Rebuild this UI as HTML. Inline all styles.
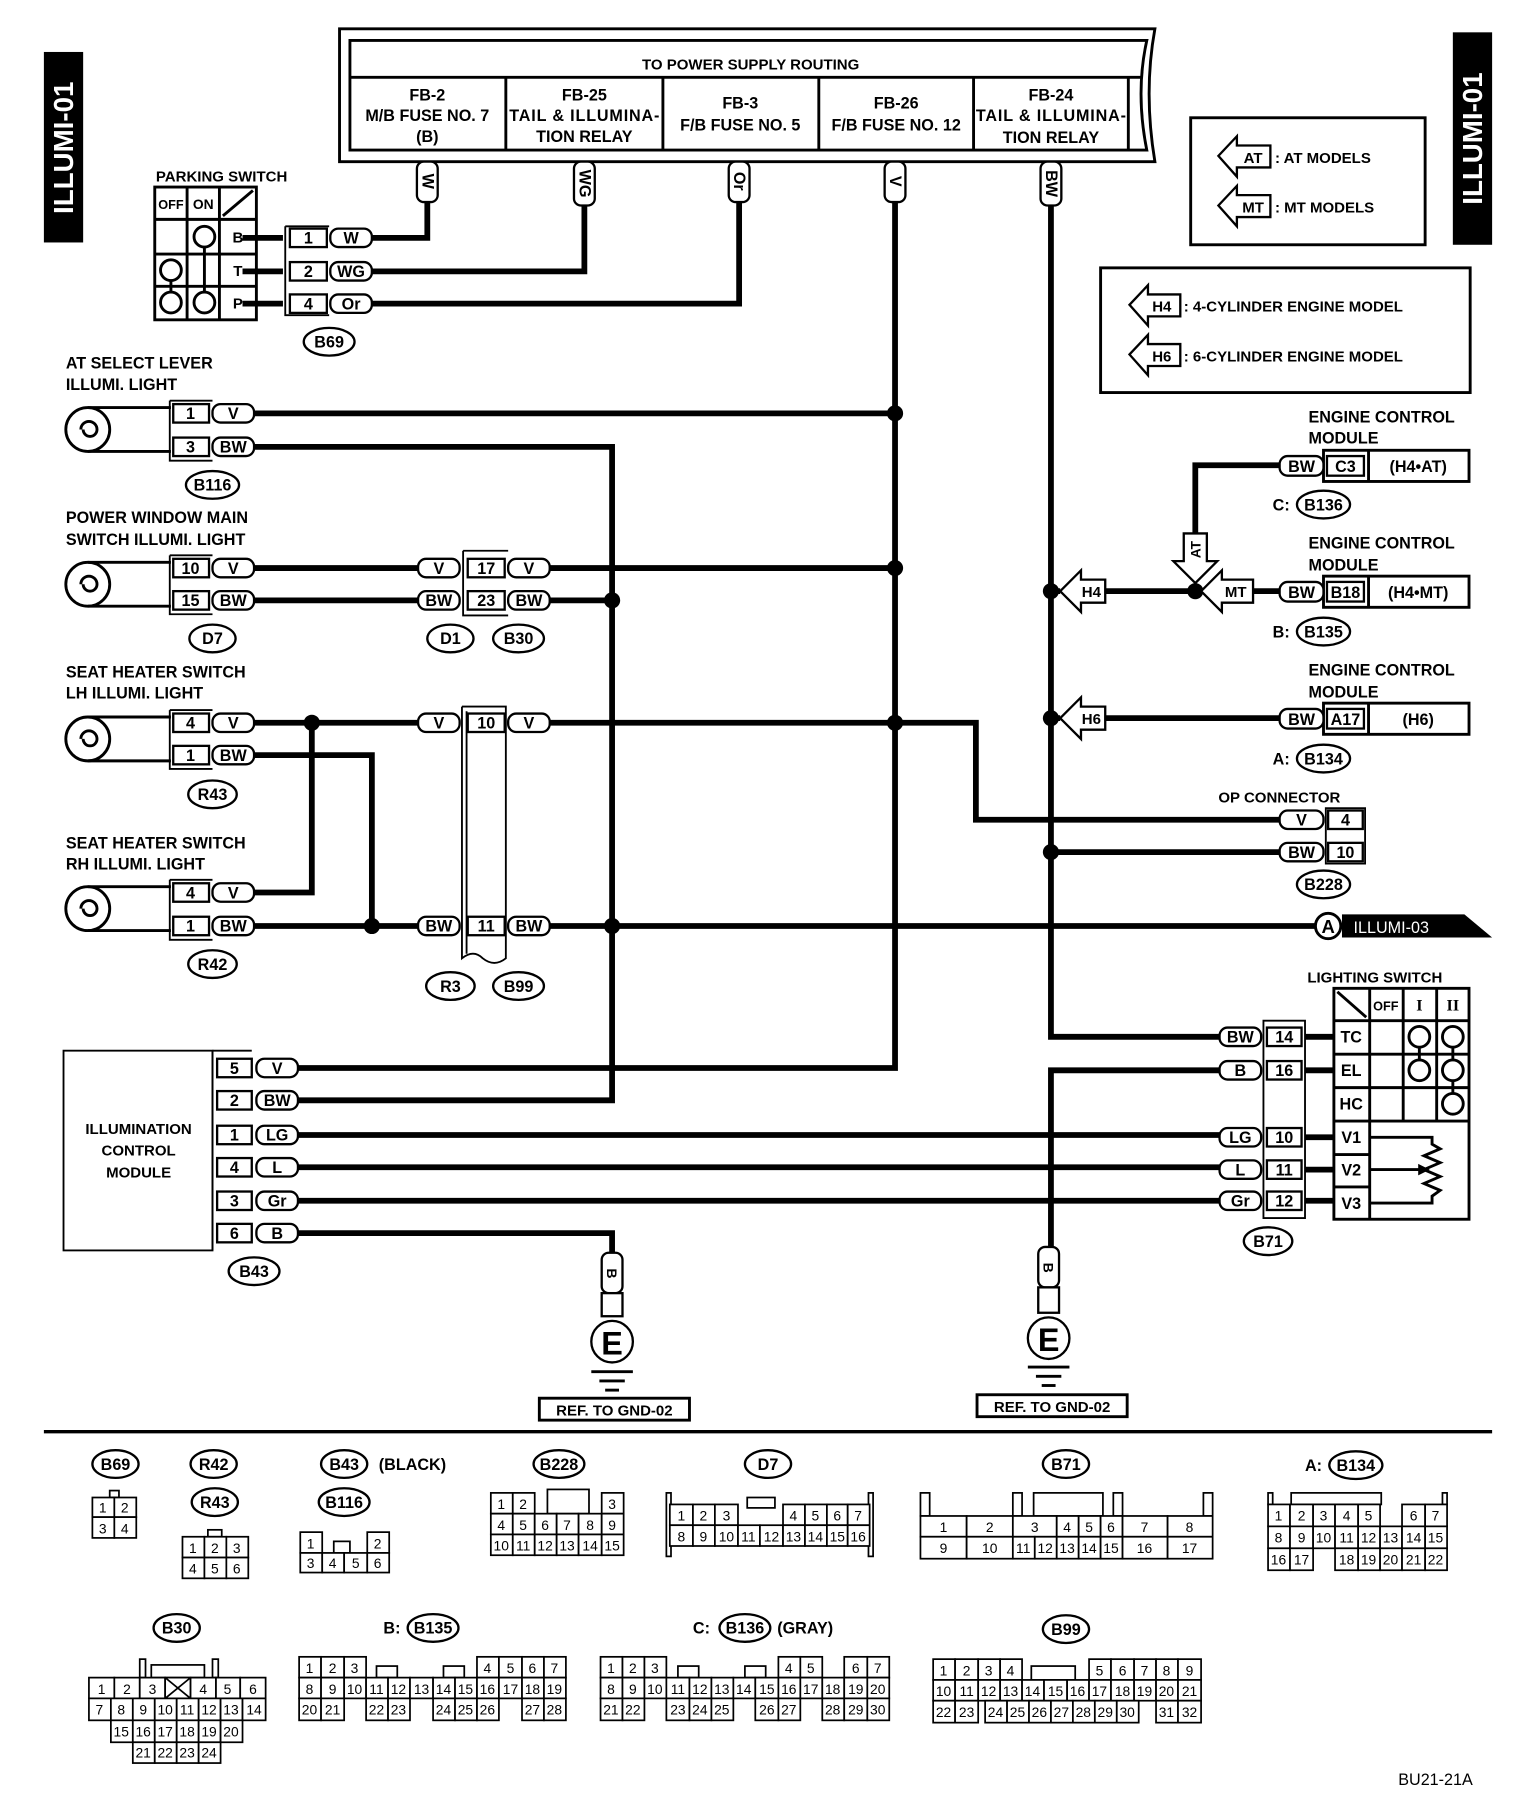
<!DOCTYPE html>
<html><head><meta charset="utf-8"><style>
html,body{margin:0;padding:0;background:#fff}
svg{display:block}
text{font-family:"Liberation Sans",Arial,sans-serif;font-weight:bold;font-size:14px;fill:#000}
.c{text-anchor:middle}
.m{text-anchor:middle;dominant-baseline:central}
.w{stroke:#000;stroke-width:5;fill:none}
.n{stroke:#000;stroke-width:1.6;fill:none}
.b{stroke:#000;stroke-width:2;fill:#fff}
.g rect{fill:#fff;stroke:#000;stroke-width:1.5}
.g text{font-size:12px;font-weight:normal;text-anchor:middle}
.s{font-size:13px}
</style></head><body>
<svg xmlns="http://www.w3.org/2000/svg" width="1536" height="1800" viewBox="0 0 1330 1559" preserveAspectRatio="none">
<rect width="1330" height="1559" fill="#fff"/>
<!-- side labels -->
<rect x="38" y="45" width="34" height="165" fill="#000"/>
<text transform="translate(55,128) rotate(-90)" class="m" style="fill:#fff;font-size:24px">ILLUMI-01</text>
<rect x="1258" y="28" width="34" height="184" fill="#000"/>
<text transform="translate(1275,120) rotate(-90)" class="m" style="fill:#fff;font-size:24px">ILLUMI-01</text>

<!-- power box -->
<path d="M294,25 H1000 Q990,80 1000,140 H294 Z" class="n" style="stroke-width:2.5"/>
<path d="M303,35 H993 Q983,80 993,130 H303 Z" class="n" style="stroke-width:2.5"/>
<line x1="303" y1="67" x2="988" y2="67" class="n" style="stroke-width:2.5"/>
<g class="n" style="stroke-width:2.5"><line x1="438" y1="67" x2="438" y2="130"/><line x1="574" y1="67" x2="574" y2="130"/><line x1="709" y1="67" x2="709" y2="130"/><line x1="843" y1="67" x2="843" y2="130"/><line x1="977" y1="67" x2="977" y2="130"/></g>
<text x="650" y="60" class="c s">TO POWER SUPPLY ROUTING</text>
<g class="s">
<text x="370" y="87" class="c">FB-2</text><text x="370" y="105" class="c">M/B FUSE NO. 7</text><text x="370" y="123" class="c">(B)</text>
<text x="506" y="87" class="c">FB-25</text><text x="506" y="105" class="c" textLength="130">TAIL &amp; ILLUMINA-</text><text x="506" y="123" class="c">TION RELAY</text>
<text x="641" y="94" class="c">FB-3</text><text x="641" y="113" class="c">F/B FUSE NO. 5</text>
<text x="776" y="94" class="c">FB-26</text><text x="776" y="113" class="c">F/B FUSE NO. 12</text>
<text x="910" y="87" class="c">FB-24</text><text x="910" y="105" class="c" textLength="130">TAIL &amp; ILLUMINA-</text><text x="910" y="124" class="c">TION RELAY</text>
</g>

<!-- wires -->
<g class="w">
<path d="M370,175 V206 H320"/>
<path d="M506,175 V235 H320"/>
<path d="M640,175 V263 H320"/>
<path d="M775,175 V925 H258"/>
<path d="M910,175 V898 H1060"/>
<path d="M220,358 H775"/>
<path d="M220,387 H530 V953 H258"/>
<path d="M220,492 H362 M476,492 H775"/>
<path d="M220,520 H362 M476,520 H530"/>
<path d="M220,626 H362 M476,626 H845 V710 H1108"/>
<path d="M220,654 H322 V802"/>
<path d="M220,773 H270 V626"/>
<path d="M220,802 H362 M476,802 H1140"/>
<path d="M258,983 H1060 M258,1011 H1060 M258,1040 H1060"/>
<path d="M258,1068 H530 V1085"/>
<path d="M1060,927 H910 V1080"/>
<path d="M910,738 H1108"/>
<path d="M1108,403 H1035 V462"/>
<path d="M956,512 H1040 M1085,512 H1108"/>
<path d="M956,622 H1108"/>
<path d="M910,512 H918 M910,622 H918"/>
<path d="M1130,898 H1155 M1130,927 H1155 M1130,985 H1155 M1130,1013 H1155 M1130,1040 H1155"/>
<path d="M245,206 H210 M245,235 H210 M245,263 H210"/>
</g>
<!-- junctions -->
<g fill="#000">
<circle cx="775" cy="358" r="7"/><circle cx="775" cy="492" r="7"/><circle cx="775" cy="626" r="7"/>
<circle cx="530" cy="520" r="7"/><circle cx="530" cy="802" r="7"/>
<circle cx="270" cy="626" r="7"/><circle cx="322" cy="802" r="7"/>
<circle cx="910" cy="512" r="7"/><circle cx="910" cy="622" r="7"/><circle cx="910" cy="738" r="7"/>
<circle cx="1035" cy="512" r="7"/>
</g>

<!-- top vertical tags -->
<g class="b"><rect x="361" y="140" width="18" height="35" rx="6"/><rect x="497" y="140" width="18" height="38" rx="6"/><rect x="631" y="140" width="18" height="35" rx="6"/><rect x="766" y="140" width="18" height="35" rx="6"/><rect x="901" y="140" width="18" height="38" rx="6"/></g>
<g style="font-size:12px">
<text transform="translate(370,157) rotate(90)" class="m">W</text>
<text transform="translate(506,159) rotate(90)" class="m">WG</text>
<text transform="translate(640,157) rotate(90)" class="m">Or</text>
<text transform="translate(775,157) rotate(90)" class="m">V</text>
<text transform="translate(910,159) rotate(90)" class="m">BW</text>
</g>

<!-- parking switch -->
<text x="135" y="157" class="s">PARKING SWITCH</text>
<g class="n" style="stroke-width:2.5">
<rect x="134" y="162" width="88" height="115"/>
<line x1="162" y1="162" x2="162" y2="277"/><line x1="190" y1="162" x2="190" y2="277"/>
<line x1="134" y1="190" x2="222" y2="190"/><line x1="134" y1="220" x2="222" y2="220"/><line x1="134" y1="248" x2="222" y2="248"/>
<line x1="193" y1="187" x2="219" y2="165"/>
<circle cx="177" cy="205" r="9"/><circle cx="148" cy="234" r="9"/><circle cx="148" cy="262" r="9"/><circle cx="177" cy="262" r="9"/>
<line x1="177" y1="214" x2="177" y2="253"/><line x1="148" y1="243" x2="148" y2="253"/>
</g>
<text x="148" y="181" class="c" style="font-size:11px">OFF</text><text x="176" y="181" class="c" style="font-size:12px">ON</text>
<text x="206" y="210" class="c s">B</text><text x="206" y="239" class="c s">T</text><text x="206" y="267" class="c s">P</text>
<!-- B69 connector -->
<path d="M247,196 V273 H285 M247,196 H285" class="n"/>
<g class="b"><rect x="251" y="198" width="32" height="16"/><rect x="251" y="227" width="32" height="16"/><rect x="251" y="255" width="32" height="16"/>
<rect x="286" y="198" width="36" height="16" rx="7"/><rect x="286" y="227" width="36" height="16" rx="7"/><rect x="286" y="255" width="36" height="16" rx="7"/></g>
<g class="s"><text x="267" y="211" class="c">1</text><text x="267" y="240" class="c">2</text><text x="267" y="268" class="c">4</text>
<text x="304" y="211" class="c">W</text><text x="304" y="240" class="c">WG</text><text x="304" y="268" class="c">Or</text></g>

<!-- lamps -->
<g class="n" style="stroke-width:2.5">
<circle cx="76" cy="372" r="19"/><path d="M70,372 a7,7 0 1 1 14,0 a6,6 0 1 1 -12,0" /><path d="M76,353 H148 M76,391 H148"/>
<circle cx="76" cy="506" r="19"/><path d="M70,506 a7,7 0 1 1 14,0 a6,6 0 1 1 -12,0" /><path d="M76,487 H148 M76,525 H148"/>
<circle cx="76" cy="640" r="19"/><path d="M70,640 a7,7 0 1 1 14,0 a6,6 0 1 1 -12,0" /><path d="M76,621 H148 M76,659 H148"/>
<circle cx="76" cy="787" r="19"/><path d="M70,787 a7,7 0 1 1 14,0 a6,6 0 1 1 -12,0" /><path d="M76,768 H148 M76,806 H148"/>
</g>
<!-- lamp connectors -->
<g class="n"><path d="M147,347 V399 H184 M147,347 H184"/><path d="M147,481 V532 H184 M147,481 H184"/><path d="M147,615 V666 H184 M147,615 H184"/><path d="M147,762 V814 H184 M147,762 H184"/></g>
<g class="b">
<rect x="150" y="350" width="31" height="16"/><rect x="150" y="379" width="31" height="16"/>
<rect x="184" y="350" width="36" height="16" rx="7"/><rect x="184" y="379" width="36" height="16" rx="7"/>
<rect x="150" y="484" width="31" height="16"/><rect x="150" y="512" width="31" height="16"/>
<rect x="184" y="484" width="36" height="16" rx="7"/><rect x="184" y="512" width="36" height="16" rx="7"/>
<rect x="150" y="618" width="31" height="16"/><rect x="150" y="646" width="31" height="16"/>
<rect x="184" y="618" width="36" height="16" rx="7"/><rect x="184" y="646" width="36" height="16" rx="7"/>
<rect x="150" y="765" width="31" height="16"/><rect x="150" y="794" width="31" height="16"/>
<rect x="184" y="765" width="36" height="16" rx="7"/><rect x="184" y="794" width="36" height="16" rx="7"/>
</g>
<g class="s">
<text x="165" y="363" class="c">1</text><text x="202" y="363" class="c">V</text><text x="165" y="392" class="c">3</text><text x="202" y="392" class="c">BW</text>
<text x="165" y="497" class="c">10</text><text x="202" y="497" class="c">V</text><text x="165" y="525" class="c">15</text><text x="202" y="525" class="c">BW</text>
<text x="165" y="631" class="c">4</text><text x="202" y="631" class="c">V</text><text x="165" y="659" class="c">1</text><text x="202" y="659" class="c">BW</text>
<text x="165" y="778" class="c">4</text><text x="202" y="778" class="c">V</text><text x="165" y="807" class="c">1</text><text x="202" y="807" class="c">BW</text>
</g>
<g class="s">
<text x="57" y="319">AT SELECT LEVER</text><text x="57" y="338">ILLUMI. LIGHT</text>
<text x="57" y="453">POWER WINDOW MAIN</text><text x="57" y="472">SWITCH ILLUMI. LIGHT</text>
<text x="57" y="587">SEAT HEATER SWITCH</text><text x="57" y="605">LH ILLUMI. LIGHT</text>
<text x="57" y="735">SEAT HEATER SWITCH</text><text x="57" y="753">RH ILLUMI. LIGHT</text>
</g>

<!-- mid connectors D1/B30, R3/B99 -->
<path d="M401,477 V533 H440 M401,477 H440" class="n"/>
<path d="M400,612 V830 Q410,822 418,830 Q428,838 438,830 V612 H400" class="n"/>
<line x1="404" y1="616" x2="404" y2="826" class="n"/>
<g class="b">
<rect x="362" y="484" width="36" height="16" rx="7"/><rect x="362" y="512" width="36" height="16" rx="7"/>
<rect x="405" y="484" width="32" height="16"/><rect x="405" y="512" width="32" height="16"/>
<rect x="440" y="484" width="36" height="16" rx="7"/><rect x="440" y="512" width="36" height="16" rx="7"/>
<rect x="362" y="618" width="36" height="16" rx="7"/><rect x="405" y="618" width="32" height="16"/><rect x="440" y="618" width="36" height="16" rx="7"/>
<rect x="362" y="794" width="36" height="16" rx="7"/><rect x="405" y="794" width="32" height="16"/><rect x="440" y="794" width="36" height="16" rx="7"/>
</g>
<g class="s">
<text x="380" y="497" class="c">V</text><text x="421" y="497" class="c">17</text><text x="458" y="497" class="c">V</text>
<text x="380" y="525" class="c">BW</text><text x="421" y="525" class="c">23</text><text x="458" y="525" class="c">BW</text>
<text x="380" y="631" class="c">V</text><text x="421" y="631" class="c">10</text><text x="458" y="631" class="c">V</text>
<text x="380" y="807" class="c">BW</text><text x="421" y="807" class="c">11</text><text x="458" y="807" class="c">BW</text>
</g>

<!-- ovals -->
<g class="b">
<ellipse cx="285" cy="296" rx="22" ry="12"/><ellipse cx="184" cy="420" rx="23" ry="12"/><ellipse cx="184" cy="553" rx="20" ry="12"/>
<ellipse cx="390" cy="553" rx="20" ry="12"/><ellipse cx="449" cy="553" rx="22" ry="12"/><ellipse cx="184" cy="688" rx="21" ry="12"/>
<ellipse cx="184" cy="835" rx="21" ry="12"/><ellipse cx="390" cy="854" rx="21" ry="12"/><ellipse cx="449" cy="854" rx="22" ry="12"/>
<ellipse cx="220" cy="1101" rx="22" ry="12"/><ellipse cx="1146" cy="437" rx="23" ry="12"/><ellipse cx="1146" cy="547" rx="23" ry="12"/>
<ellipse cx="1146" cy="657" rx="23" ry="12"/><ellipse cx="1146" cy="766" rx="23" ry="12"/><ellipse cx="1098" cy="1075" rx="21" ry="12"/>
</g>
<g class="s">
<text x="285" y="301" class="c">B69</text><text x="184" y="425" class="c">B116</text><text x="184" y="558" class="c">D7</text>
<text x="390" y="558" class="c">D1</text><text x="449" y="558" class="c">B30</text><text x="184" y="693" class="c">R43</text>
<text x="184" y="840" class="c">R42</text><text x="390" y="859" class="c">R3</text><text x="449" y="859" class="c">B99</text>
<text x="220" y="1106" class="c">B43</text><text x="1146" y="442" class="c">B136</text><text x="1146" y="552" class="c">B135</text>
<text x="1146" y="662" class="c">B134</text><text x="1146" y="771" class="c">B228</text><text x="1098" y="1080" class="c">B71</text>
<text x="1102" y="442">C:</text><text x="1102" y="552">B:</text><text x="1102" y="662">A:</text>
</g>

<!-- illumination control module -->
<rect x="55" y="910" width="129" height="173" class="n"/>
<path d="M184,910 H218 M184,910 V1083" class="n"/>
<text x="120" y="982" class="c s">ILLUMINATION</text><text x="120" y="1001" class="c s">CONTROL</text><text x="120" y="1020" class="c s">MODULE</text>
<g class="b">
<rect x="188" y="917" width="30" height="16"/><rect x="188" y="945" width="30" height="16"/><rect x="188" y="975" width="30" height="16"/>
<rect x="188" y="1003" width="30" height="16"/><rect x="188" y="1032" width="30" height="16"/><rect x="188" y="1060" width="30" height="16"/>
<rect x="222" y="917" width="36" height="16" rx="7"/><rect x="222" y="945" width="36" height="16" rx="7"/><rect x="222" y="975" width="36" height="16" rx="7"/>
<rect x="222" y="1003" width="36" height="16" rx="7"/><rect x="222" y="1032" width="36" height="16" rx="7"/><rect x="222" y="1060" width="36" height="16" rx="7"/>
</g>
<g class="s">
<text x="203" y="930" class="c">5</text><text x="240" y="930" class="c">V</text>
<text x="203" y="958" class="c">2</text><text x="240" y="958" class="c">BW</text>
<text x="203" y="988" class="c">1</text><text x="240" y="988" class="c">LG</text>
<text x="203" y="1016" class="c">4</text><text x="240" y="1016" class="c">L</text>
<text x="203" y="1045" class="c">3</text><text x="240" y="1045" class="c">Gr</text>
<text x="203" y="1073" class="c">6</text><text x="240" y="1073" class="c">B</text>
</g>

<!-- grounds -->
<g class="b"><rect x="521" y="1085" width="18" height="35" rx="6"/><rect x="521" y="1120" width="18" height="20"/><circle cx="530" cy="1162" r="18"/>
<rect x="899" y="1080" width="18" height="35" rx="6"/><rect x="899" y="1115" width="18" height="22"/><circle cx="908" cy="1159" r="18"/></g>
<text transform="translate(530,1103) rotate(90)" class="m" style="font-size:12px">B</text>
<text transform="translate(908,1098) rotate(90)" class="m" style="font-size:12px">B</text>
<text x="530" y="1173" class="c" style="font-size:28px">E</text><text x="908" y="1170" class="c" style="font-size:28px">E</text>
<g stroke="#000" stroke-width="2.5"><line x1="512" y1="1188" x2="548" y2="1188"/><line x1="519" y1="1196" x2="541" y2="1196"/><line x1="524" y1="1204" x2="536" y2="1204"/>
<line x1="890" y1="1184" x2="926" y2="1184"/><line x1="897" y1="1192" x2="919" y2="1192"/><line x1="902" y1="1200" x2="914" y2="1200"/></g>
<rect x="467" y="1211" width="130" height="19" class="n" style="stroke-width:2.5"/><text x="532" y="1226" class="c s">REF. TO GND-02</text>
<rect x="846" y="1208" width="130" height="19" class="n" style="stroke-width:2.5"/><text x="911" y="1223" class="c s">REF. TO GND-02</text>

<!-- legends -->
<rect x="1031" y="102" width="203" height="110" class="n" style="stroke-width:2.5"/>
<polygon points="1055,135 1071,118 1071,126 1100,126 1100,145 1071,145 1071,153" class="b"/>
<polygon points="1055,178 1071,161 1071,169 1100,169 1100,188 1071,188 1071,196" class="b"/>
<text x="1085" y="141" class="c s">AT</text><text x="1085" y="184" class="c s">MT</text>
<text x="1104" y="141" class="s">: AT MODELS</text><text x="1104" y="184" class="s">: MT MODELS</text>
<rect x="953" y="232" width="320" height="108" class="n" style="stroke-width:2.5"/>
<polygon points="978,264 994,247 994,255 1022,255 1022,274 994,274 994,282" class="b"/>
<polygon points="978,307 994,290 994,298 1022,298 1022,317 994,317 994,325" class="b"/>
<text x="1006" y="270" class="c s">H4</text><text x="1006" y="313" class="c s">H6</text>
<text x="1025" y="270" class="s">: 4-CYLINDER ENGINE MODEL</text><text x="1025" y="313" class="s">: 6-CYLINDER ENGINE MODEL</text>

<!-- diagram arrows -->
<polygon points="918,512 936,494 936,502 957,502 957,522 936,522 936,530" class="b"/>
<polygon points="918,622 936,604 936,612 957,612 957,632 936,632 936,640" class="b"/>
<polygon points="1040,512 1058,494 1058,502 1085,502 1085,522 1058,522 1058,530" class="b"/>
<polygon points="1035,505 1016,486 1025,486 1025,462 1045,462 1045,486 1054,486" class="b"/>
<text x="945" y="517" class="c s">H4</text><text x="945" y="627" class="c s">H6</text><text x="1070" y="517" class="c s">MT</text>
<text transform="translate(1035,476) rotate(-90)" class="m" style="font-size:12px">AT</text>

<!-- ECM blocks -->
<g class="s">
<text x="1133" y="366">ENGINE CONTROL</text><text x="1133" y="384">MODULE</text>
<text x="1133" y="475">ENGINE CONTROL</text><text x="1133" y="494">MODULE</text>
<text x="1133" y="585">ENGINE CONTROL</text><text x="1133" y="604">MODULE</text>
</g>
<g class="n" style="stroke-width:2.5"><rect x="1146" y="390" width="126" height="27"/><rect x="1146" y="499" width="126" height="27"/><rect x="1146" y="609" width="126" height="27"/>
<line x1="1185" y1="390" x2="1185" y2="417"/><line x1="1185" y1="499" x2="1185" y2="526"/><line x1="1185" y1="609" x2="1185" y2="636"/></g>
<g class="b">
<rect x="1108" y="395" width="38" height="17" rx="7"/><rect x="1149" y="395" width="32" height="17"/>
<rect x="1108" y="504" width="38" height="17" rx="7"/><rect x="1149" y="504" width="32" height="17"/>
<rect x="1108" y="614" width="38" height="17" rx="7"/><rect x="1149" y="614" width="32" height="17"/>
</g>
<g class="s">
<text x="1127" y="409" class="c">BW</text><text x="1165" y="409" class="c">C3</text><text x="1228" y="409" class="c">(H4•AT)</text>
<text x="1127" y="518" class="c">BW</text><text x="1165" y="518" class="c">B18</text><text x="1228" y="518" class="c">(H4•MT)</text>
<text x="1127" y="628" class="c">BW</text><text x="1165" y="628" class="c">A17</text><text x="1228" y="628" class="c">(H6)</text>
</g>

<!-- OP connector -->
<text x="1055" y="695" class="s">OP CONNECTOR</text>
<path d="M1148,700 V748 H1182 V700 Z" class="n"/>
<g class="b"><rect x="1108" y="702" width="38" height="16" rx="7"/><rect x="1108" y="730" width="38" height="16" rx="7"/>
<rect x="1150" y="702" width="30" height="16"/><rect x="1150" y="730" width="30" height="16"/></g>
<g class="s"><text x="1127" y="715" class="c">V</text><text x="1165" y="715" class="c">4</text><text x="1127" y="743" class="c">BW</text><text x="1165" y="743" class="c">10</text></g>

<!-- ILLUMI-03 -->
<circle cx="1150" cy="802" r="11" class="b" style="stroke-width:2.5"/><text x="1150" y="808" class="c" style="font-size:16px">A</text>
<polygon points="1162,792 1268,792 1292,812 1162,812" fill="#000"/>
<text x="1172" y="808" style="fill:#fff;font-size:14px;font-weight:normal">ILLUMI-03</text>

<!-- lighting switch -->
<text x="1132" y="851" class="s">LIGHTING SWITCH</text>
<g class="n" style="stroke-width:2.5">
<rect x="1155" y="856" width="117" height="200"/>
<line x1="1186" y1="856" x2="1186" y2="1056"/><line x1="1215" y1="856" x2="1215" y2="971"/><line x1="1244" y1="856" x2="1244" y2="971"/>
<line x1="1155" y1="884" x2="1272" y2="884"/><line x1="1155" y1="913" x2="1272" y2="913"/><line x1="1155" y1="942" x2="1272" y2="942"/><line x1="1155" y1="971" x2="1272" y2="971"/>
<line x1="1155" y1="1000" x2="1186" y2="1000"/><line x1="1155" y1="1028" x2="1186" y2="1028"/>
<line x1="1158" y1="859" x2="1183" y2="881"/>
<circle cx="1229" cy="898" r="9"/><circle cx="1258" cy="898" r="9"/><circle cx="1229" cy="927" r="9"/><circle cx="1258" cy="927" r="9"/><circle cx="1258" cy="956" r="9"/>
<line x1="1229" y1="907" x2="1229" y2="918"/><line x1="1258" y1="907" x2="1258" y2="918"/><line x1="1258" y1="936" x2="1258" y2="947"/>
<path d="M1186,985 H1240 V991 L1247,995 L1233,1001 L1247,1007 L1233,1013 L1247,1019 L1233,1025 L1247,1031 L1240,1036 V1042 H1186"/>
<path d="M1186,1013 H1232"/>
</g>
<polygon points="1238,1013 1228,1008 1228,1018" fill="#000"/>
<text x="1200" y="875" class="c" style="font-size:11px">OFF</text><text x="1229" y="875" class="c" style="font-family:'Liberation Serif',serif">I</text><text x="1258" y="875" class="c" style="font-family:'Liberation Serif',serif">II</text>
<g class="s"><text x="1170" y="903" class="c">TC</text><text x="1170" y="932" class="c">EL</text><text x="1170" y="961" class="c">HC</text>
<text x="1170" y="990" class="c">V1</text><text x="1170" y="1018" class="c">V2</text><text x="1170" y="1047" class="c">V3</text></g>
<path d="M1094,884 V1055 H1130 V884 Z" class="n"/>
<g class="b">
<rect x="1097" y="890" width="30" height="16"/><rect x="1097" y="919" width="30" height="16"/><rect x="1097" y="977" width="30" height="16"/><rect x="1097" y="1005" width="30" height="16"/><rect x="1097" y="1032" width="30" height="16"/>
<rect x="1056" y="890" width="36" height="16" rx="7"/><rect x="1056" y="919" width="36" height="16" rx="7"/><rect x="1056" y="977" width="36" height="16" rx="7"/><rect x="1056" y="1005" width="36" height="16" rx="7"/><rect x="1056" y="1032" width="36" height="16" rx="7"/>
</g>
<g class="s">
<text x="1112" y="903" class="c">14</text><text x="1074" y="903" class="c">BW</text>
<text x="1112" y="932" class="c">16</text><text x="1074" y="932" class="c">B</text>
<text x="1112" y="990" class="c">10</text><text x="1074" y="990" class="c">LG</text>
<text x="1112" y="1018" class="c">11</text><text x="1074" y="1018" class="c">L</text>
<text x="1112" y="1045" class="c">12</text><text x="1074" y="1045" class="c">Gr</text>
</g>

<!-- separator -->
<line x1="38" y1="1240" x2="1292" y2="1240" stroke="#000" stroke-width="3"/>

<!-- bottom ovals -->
<g class="b">
<ellipse cx="100" cy="1268" rx="20" ry="12"/><ellipse cx="185" cy="1268" rx="20" ry="12"/><ellipse cx="298" cy="1268" rx="20" ry="12"/>
<ellipse cx="186" cy="1301" rx="20" ry="12"/><ellipse cx="298" cy="1301" rx="22" ry="12"/><ellipse cx="484" cy="1268" rx="22" ry="12"/>
<ellipse cx="665" cy="1268" rx="20" ry="12"/><ellipse cx="923" cy="1268" rx="20" ry="12"/><ellipse cx="1174" cy="1269" rx="23" ry="12"/>
<ellipse cx="153" cy="1410" rx="20" ry="12"/><ellipse cx="375" cy="1410" rx="22" ry="12"/><ellipse cx="645" cy="1410" rx="22" ry="12"/><ellipse cx="923" cy="1411" rx="20" ry="12"/>
</g>
<g class="s">
<text x="100" y="1273" class="c">B69</text><text x="185" y="1273" class="c">R42</text><text x="298" y="1273" class="c">B43</text><text x="328" y="1273">(BLACK)</text>
<text x="186" y="1306" class="c">R43</text><text x="298" y="1306" class="c">B116</text><text x="484" y="1273" class="c">B228</text>
<text x="665" y="1273" class="c">D7</text><text x="923" y="1273" class="c">B71</text><text x="1130" y="1274">A:</text><text x="1174" y="1274" class="c">B134</text>
<text x="153" y="1415" class="c">B30</text><text x="332" y="1415">B:</text><text x="375" y="1415" class="c">B135</text>
<text x="600" y="1415">C:</text><text x="645" y="1415" class="c">B136</text><text x="673" y="1415">(GRAY)</text>
<text x="923" y="1416" class="c">B99</text>
<text x="1243" y="1546" class="c" style="font-weight:normal;font-size:14px">BU21-21A</text>
</g>

<!-- bottom grids -->
<g class="g">
<!-- B69 -->
<rect x="95" y="1291" width="8" height="6"/>
<rect x="80" y="1297" width="19" height="17"/><rect x="99" y="1297" width="19" height="17"/><rect x="80" y="1314" width="19" height="18"/><rect x="99" y="1314" width="19" height="18"/>
<text x="89" y="1310">1</text><text x="108" y="1310">2</text><text x="89" y="1328">3</text><text x="108" y="1328">4</text>
<!-- R43 -->
<rect x="180" y="1325" width="12" height="6"/>
<rect x="158" y="1331" width="19" height="18"/><rect x="177" y="1331" width="19" height="18"/><rect x="196" y="1331" width="19" height="18"/>
<rect x="158" y="1349" width="19" height="18"/><rect x="177" y="1349" width="19" height="18"/><rect x="196" y="1349" width="19" height="18"/>
<text x="167" y="1345">1</text><text x="186" y="1345">2</text><text x="205" y="1345">3</text><text x="167" y="1363">4</text><text x="186" y="1363">5</text><text x="205" y="1363">6</text>
<!-- B116 -->
<rect x="260" y="1327" width="19" height="18"/><rect x="289" y="1335" width="14" height="10"/><rect x="318" y="1327" width="19" height="18"/>
<rect x="260" y="1345" width="19" height="17"/><rect x="279" y="1345" width="19" height="17"/><rect x="298" y="1345" width="20" height="17"/><rect x="318" y="1345" width="19" height="17"/>
<text x="269" y="1341">1</text><text x="327" y="1341">2</text><text x="269" y="1358">3</text><text x="288" y="1358">4</text><text x="308" y="1358">5</text><text x="327" y="1358">6</text>
<!-- B228 -->
<rect x="425" y="1293" width="19" height="18"/><rect x="444" y="1293" width="19" height="18"/><rect x="474" y="1290" width="36" height="21"/><rect x="521" y="1293" width="19" height="18"/>
<rect x="425" y="1311" width="19" height="18"/><rect x="444" y="1311" width="19" height="18"/><rect x="463" y="1311" width="19" height="18"/><rect x="482" y="1311" width="19" height="18"/><rect x="501" y="1311" width="20" height="18"/><rect x="521" y="1311" width="19" height="18"/>
<rect x="425" y="1329" width="19" height="18"/><rect x="444" y="1329" width="19" height="18"/><rect x="463" y="1329" width="19" height="18"/><rect x="482" y="1329" width="19" height="18"/><rect x="501" y="1329" width="20" height="18"/><rect x="521" y="1329" width="19" height="18"/>
<text x="434" y="1307">1</text><text x="453" y="1307">2</text><text x="530" y="1307">3</text>
<text x="434" y="1325">4</text><text x="453" y="1325">5</text><text x="472" y="1325">6</text><text x="491" y="1325">7</text><text x="511" y="1325">8</text><text x="530" y="1325">9</text>
<text x="434" y="1343">10</text><text x="453" y="1343">11</text><text x="472" y="1343">12</text><text x="491" y="1343">13</text><text x="511" y="1343">14</text><text x="530" y="1343">15</text>
<!-- D7 -->
<rect x="577" y="1293" width="4" height="55"/><rect x="752" y="1293" width="4" height="55"/><rect x="647" y="1297" width="24" height="9"/>
<rect x="580" y="1303" width="20" height="18"/><rect x="600" y="1303" width="19" height="18"/><rect x="619" y="1303" width="20" height="18"/>
<rect x="678" y="1303" width="19" height="18"/><rect x="697" y="1303" width="19" height="18"/><rect x="716" y="1303" width="18" height="18"/><rect x="734" y="1303" width="19" height="18"/>
<rect x="580" y="1321" width="20" height="18"/><rect x="600" y="1321" width="19" height="18"/><rect x="619" y="1321" width="20" height="18"/><rect x="639" y="1321" width="19" height="18"/><rect x="658" y="1321" width="20" height="18"/><rect x="678" y="1321" width="19" height="18"/><rect x="697" y="1321" width="19" height="18"/><rect x="716" y="1321" width="18" height="18"/><rect x="734" y="1321" width="19" height="18"/>
<text x="590" y="1317">1</text><text x="609" y="1317">2</text><text x="629" y="1317">3</text><text x="687" y="1317">4</text><text x="706" y="1317">5</text><text x="725" y="1317">6</text><text x="743" y="1317">7</text>
<text x="590" y="1335">8</text><text x="609" y="1335">9</text><text x="629" y="1335">10</text><text x="648" y="1335">11</text><text x="668" y="1335">12</text><text x="687" y="1335">13</text><text x="706" y="1335">14</text><text x="725" y="1335">15</text><text x="743" y="1335">16</text>
<!-- B71 -->
<rect x="797" y="1293" width="8" height="20"/><rect x="1042" y="1293" width="8" height="20"/><rect x="877" y="1293" width="8" height="20"/><rect x="964" y="1293" width="8" height="20"/><rect x="895" y="1293" width="60" height="20"/>
<rect x="797" y="1313" width="40" height="18"/><rect x="837" y="1313" width="40" height="18"/><rect x="877" y="1313" width="38" height="18"/><rect x="915" y="1313" width="19" height="18"/><rect x="934" y="1313" width="19" height="18"/><rect x="953" y="1313" width="19" height="18"/><rect x="972" y="1313" width="39" height="18"/><rect x="1011" y="1313" width="39" height="18"/>
<rect x="797" y="1331" width="40" height="19"/><rect x="837" y="1331" width="40" height="19"/><rect x="877" y="1331" width="19" height="19"/><rect x="896" y="1331" width="19" height="19"/><rect x="915" y="1331" width="19" height="19"/><rect x="934" y="1331" width="19" height="19"/><rect x="953" y="1331" width="19" height="19"/><rect x="972" y="1331" width="39" height="19"/><rect x="1011" y="1331" width="39" height="19"/>
<text x="817" y="1327">1</text><text x="857" y="1327">2</text><text x="896" y="1327">3</text><text x="924" y="1327">4</text><text x="943" y="1327">5</text><text x="962" y="1327">6</text><text x="991" y="1327">7</text><text x="1030" y="1327">8</text>
<text x="817" y="1345">9</text><text x="857" y="1345">10</text><text x="886" y="1345">11</text><text x="905" y="1345">12</text><text x="924" y="1345">13</text><text x="943" y="1345">14</text><text x="962" y="1345">15</text><text x="991" y="1345">16</text><text x="1030" y="1345">17</text>
<!-- B134 -->
<rect x="1098" y="1293" width="4" height="10"/><rect x="1249" y="1293" width="4" height="10"/><rect x="1118" y="1293" width="78" height="10"/>
<rect x="1098" y="1303" width="19" height="19"/><rect x="1117" y="1303" width="20" height="19"/><rect x="1137" y="1303" width="19" height="19"/><rect x="1156" y="1303" width="20" height="19"/><rect x="1176" y="1303" width="19" height="19"/><rect x="1214" y="1303" width="20" height="19"/><rect x="1234" y="1303" width="19" height="19"/>
<rect x="1098" y="1322" width="19" height="19"/><rect x="1117" y="1322" width="20" height="19"/><rect x="1137" y="1322" width="19" height="19"/><rect x="1156" y="1322" width="20" height="19"/><rect x="1176" y="1322" width="19" height="19"/><rect x="1195" y="1322" width="19" height="19"/><rect x="1214" y="1322" width="20" height="19"/><rect x="1234" y="1322" width="19" height="19"/>
<rect x="1098" y="1341" width="19" height="19"/><rect x="1117" y="1341" width="20" height="19"/><rect x="1156" y="1341" width="20" height="19"/><rect x="1176" y="1341" width="19" height="19"/><rect x="1195" y="1341" width="19" height="19"/><rect x="1214" y="1341" width="20" height="19"/><rect x="1234" y="1341" width="19" height="19"/>
<text x="1107" y="1317">1</text><text x="1127" y="1317">2</text><text x="1146" y="1317">3</text><text x="1166" y="1317">4</text><text x="1185" y="1317">5</text><text x="1224" y="1317">6</text><text x="1243" y="1317">7</text>
<text x="1107" y="1336">8</text><text x="1127" y="1336">9</text><text x="1146" y="1336">10</text><text x="1166" y="1336">11</text><text x="1185" y="1336">12</text><text x="1204" y="1336">13</text><text x="1224" y="1336">14</text><text x="1243" y="1336">15</text>
<text x="1107" y="1355">16</text><text x="1127" y="1355">17</text><text x="1166" y="1355">18</text><text x="1185" y="1355">19</text><text x="1204" y="1355">20</text><text x="1224" y="1355">21</text><text x="1243" y="1355">22</text>
<!-- B30 -->
<rect x="121" y="1437" width="5" height="16"/><rect x="184" y="1437" width="5" height="16"/><rect x="131" y="1442" width="46" height="11"/>
<rect x="77" y="1453" width="22" height="18"/><rect x="99" y="1453" width="22" height="18"/><rect x="121" y="1453" width="22" height="18"/><rect x="143" y="1453" width="22" height="18"/><rect x="165" y="1453" width="22" height="18"/><rect x="187" y="1453" width="21" height="18"/><rect x="208" y="1453" width="22" height="18"/>
<rect x="77" y="1471" width="19" height="19"/><rect x="96" y="1471" width="19" height="19"/><rect x="115" y="1471" width="19" height="19"/><rect x="134" y="1471" width="19" height="19"/><rect x="153" y="1471" width="19" height="19"/><rect x="172" y="1471" width="19" height="19"/><rect x="191" y="1471" width="19" height="19"/><rect x="210" y="1471" width="20" height="19"/>
<rect x="96" y="1490" width="19" height="19"/><rect x="115" y="1490" width="19" height="19"/><rect x="134" y="1490" width="19" height="19"/><rect x="153" y="1490" width="19" height="19"/><rect x="172" y="1490" width="19" height="19"/><rect x="191" y="1490" width="19" height="19"/>
<rect x="115" y="1509" width="19" height="18"/><rect x="134" y="1509" width="19" height="18"/><rect x="153" y="1509" width="19" height="18"/><rect x="172" y="1509" width="19" height="18"/>
<path d="M143,1453 L165,1471 M165,1453 L143,1471" stroke="#000" stroke-width="1.5"/>
<text x="88" y="1467">1</text><text x="110" y="1467">2</text><text x="132" y="1467">3</text><text x="176" y="1467">4</text><text x="197" y="1467">5</text><text x="219" y="1467">6</text>
<text x="86" y="1485">7</text><text x="105" y="1485">8</text><text x="124" y="1485">9</text><text x="143" y="1485">10</text><text x="162" y="1485">11</text><text x="181" y="1485">12</text><text x="200" y="1485">13</text><text x="220" y="1485">14</text>
<text x="105" y="1504">15</text><text x="124" y="1504">16</text><text x="143" y="1504">17</text><text x="162" y="1504">18</text><text x="181" y="1504">19</text><text x="200" y="1504">20</text>
<text x="124" y="1522">21</text><text x="143" y="1522">22</text><text x="162" y="1522">23</text><text x="181" y="1522">24</text>
<!-- B135 -->
<rect x="326" y="1443" width="18" height="10"/><rect x="384" y="1443" width="18" height="10"/>
<rect x="259" y="1435" width="19" height="18"/><rect x="278" y="1435" width="20" height="18"/><rect x="298" y="1435" width="19" height="18"/>
<rect x="413" y="1435" width="19" height="18"/><rect x="432" y="1435" width="20" height="18"/><rect x="452" y="1435" width="19" height="18"/><rect x="471" y="1435" width="19" height="18"/>
<rect x="259" y="1453" width="19" height="18"/><rect x="278" y="1453" width="20" height="18"/><rect x="298" y="1453" width="19" height="18"/><rect x="317" y="1453" width="19" height="18"/><rect x="336" y="1453" width="19" height="18"/><rect x="355" y="1453" width="20" height="18"/><rect x="375" y="1453" width="19" height="18"/><rect x="394" y="1453" width="19" height="18"/><rect x="413" y="1453" width="19" height="18"/><rect x="432" y="1453" width="20" height="18"/><rect x="452" y="1453" width="19" height="18"/><rect x="471" y="1453" width="19" height="18"/>
<rect x="259" y="1471" width="19" height="19"/><rect x="278" y="1471" width="20" height="19"/><rect x="317" y="1471" width="19" height="19"/><rect x="336" y="1471" width="19" height="19"/><rect x="375" y="1471" width="19" height="19"/><rect x="394" y="1471" width="19" height="19"/><rect x="413" y="1471" width="19" height="19"/><rect x="452" y="1471" width="19" height="19"/><rect x="471" y="1471" width="19" height="19"/>
<text x="268" y="1449">1</text><text x="288" y="1449">2</text><text x="307" y="1449">3</text><text x="422" y="1449">4</text><text x="442" y="1449">5</text><text x="461" y="1449">6</text><text x="480" y="1449">7</text>
<text x="268" y="1467">8</text><text x="288" y="1467">9</text><text x="307" y="1467">10</text><text x="326" y="1467">11</text><text x="345" y="1467">12</text><text x="365" y="1467">13</text><text x="384" y="1467">14</text><text x="403" y="1467">15</text><text x="422" y="1467">16</text><text x="442" y="1467">17</text><text x="461" y="1467">18</text><text x="480" y="1467">19</text>
<text x="268" y="1485">20</text><text x="288" y="1485">21</text><text x="326" y="1485">22</text><text x="345" y="1485">23</text><text x="384" y="1485">24</text><text x="403" y="1485">25</text><text x="422" y="1485">26</text><text x="461" y="1485">27</text><text x="480" y="1485">28</text>
<!-- B136 -->
<rect x="587" y="1443" width="18" height="10"/><rect x="645" y="1443" width="18" height="10"/>
<rect x="520" y="1435" width="19" height="18"/><rect x="539" y="1435" width="19" height="18"/><rect x="558" y="1435" width="19" height="18"/>
<rect x="674" y="1435" width="19" height="18"/><rect x="693" y="1435" width="19" height="18"/><rect x="731" y="1435" width="20" height="18"/><rect x="751" y="1435" width="19" height="18"/>
<rect x="520" y="1453" width="19" height="18"/><rect x="539" y="1453" width="19" height="18"/><rect x="558" y="1453" width="19" height="18"/><rect x="577" y="1453" width="20" height="18"/><rect x="597" y="1453" width="19" height="18"/><rect x="616" y="1453" width="19" height="18"/><rect x="635" y="1453" width="19" height="18"/><rect x="654" y="1453" width="20" height="18"/><rect x="674" y="1453" width="19" height="18"/><rect x="693" y="1453" width="19" height="18"/><rect x="712" y="1453" width="19" height="18"/><rect x="731" y="1453" width="20" height="18"/><rect x="751" y="1453" width="19" height="18"/>
<rect x="520" y="1471" width="19" height="19"/><rect x="539" y="1471" width="19" height="19"/><rect x="577" y="1471" width="20" height="19"/><rect x="597" y="1471" width="19" height="19"/><rect x="616" y="1471" width="19" height="19"/><rect x="654" y="1471" width="20" height="19"/><rect x="674" y="1471" width="19" height="19"/><rect x="712" y="1471" width="19" height="19"/><rect x="731" y="1471" width="20" height="19"/><rect x="751" y="1471" width="19" height="19"/>
<text x="529" y="1449">1</text><text x="548" y="1449">2</text><text x="567" y="1449">3</text><text x="683" y="1449">4</text><text x="702" y="1449">5</text><text x="741" y="1449">6</text><text x="760" y="1449">7</text>
<text x="529" y="1467">8</text><text x="548" y="1467">9</text><text x="567" y="1467">10</text><text x="587" y="1467">11</text><text x="606" y="1467">12</text><text x="625" y="1467">13</text><text x="644" y="1467">14</text><text x="664" y="1467">15</text><text x="683" y="1467">16</text><text x="702" y="1467">17</text><text x="721" y="1467">18</text><text x="741" y="1467">19</text><text x="760" y="1467">20</text>
<text x="529" y="1485">21</text><text x="548" y="1485">22</text><text x="587" y="1485">23</text><text x="606" y="1485">24</text><text x="625" y="1485">25</text><text x="664" y="1485">26</text><text x="683" y="1485">27</text><text x="721" y="1485">28</text><text x="741" y="1485">29</text><text x="760" y="1485">30</text>
<!-- B99 -->
<rect x="893" y="1443" width="38" height="12"/>
<rect x="808" y="1437" width="19" height="18"/><rect x="827" y="1437" width="20" height="18"/><rect x="847" y="1437" width="19" height="18"/><rect x="866" y="1437" width="19" height="18"/>
<rect x="943" y="1437" width="19" height="18"/><rect x="962" y="1437" width="20" height="18"/><rect x="982" y="1437" width="19" height="18"/><rect x="1001" y="1437" width="19" height="18"/><rect x="1020" y="1437" width="20" height="18"/>
<rect x="808" y="1455" width="19" height="18"/><rect x="827" y="1455" width="20" height="18"/><rect x="847" y="1455" width="19" height="18"/><rect x="866" y="1455" width="19" height="18"/><rect x="885" y="1455" width="19" height="18"/><rect x="904" y="1455" width="20" height="18"/><rect x="924" y="1455" width="19" height="18"/><rect x="943" y="1455" width="19" height="18"/><rect x="962" y="1455" width="20" height="18"/><rect x="982" y="1455" width="19" height="18"/><rect x="1001" y="1455" width="19" height="18"/><rect x="1020" y="1455" width="20" height="18"/>
<rect x="808" y="1473" width="19" height="19"/><rect x="827" y="1473" width="20" height="19"/><rect x="853" y="1473" width="19" height="19"/><rect x="872" y="1473" width="19" height="19"/><rect x="891" y="1473" width="19" height="19"/><rect x="910" y="1473" width="19" height="19"/><rect x="929" y="1473" width="19" height="19"/><rect x="948" y="1473" width="19" height="19"/><rect x="967" y="1473" width="19" height="19"/><rect x="1001" y="1473" width="19" height="19"/><rect x="1020" y="1473" width="20" height="19"/>
<text x="817" y="1451">1</text><text x="837" y="1451">2</text><text x="856" y="1451">3</text><text x="875" y="1451">4</text><text x="952" y="1451">5</text><text x="972" y="1451">6</text><text x="991" y="1451">7</text><text x="1010" y="1451">8</text><text x="1030" y="1451">9</text>
<text x="817" y="1469">10</text><text x="837" y="1469">11</text><text x="856" y="1469">12</text><text x="875" y="1469">13</text><text x="894" y="1469">14</text><text x="914" y="1469">15</text><text x="933" y="1469">16</text><text x="952" y="1469">17</text><text x="972" y="1469">18</text><text x="991" y="1469">19</text><text x="1010" y="1469">20</text><text x="1030" y="1469">21</text>
<text x="817" y="1487">22</text><text x="837" y="1487">23</text><text x="862" y="1487">24</text><text x="881" y="1487">25</text><text x="900" y="1487">26</text><text x="919" y="1487">27</text><text x="938" y="1487">28</text><text x="957" y="1487">29</text><text x="976" y="1487">30</text><text x="1010" y="1487">31</text><text x="1030" y="1487">32</text>
</g>
</svg>
</body></html>
